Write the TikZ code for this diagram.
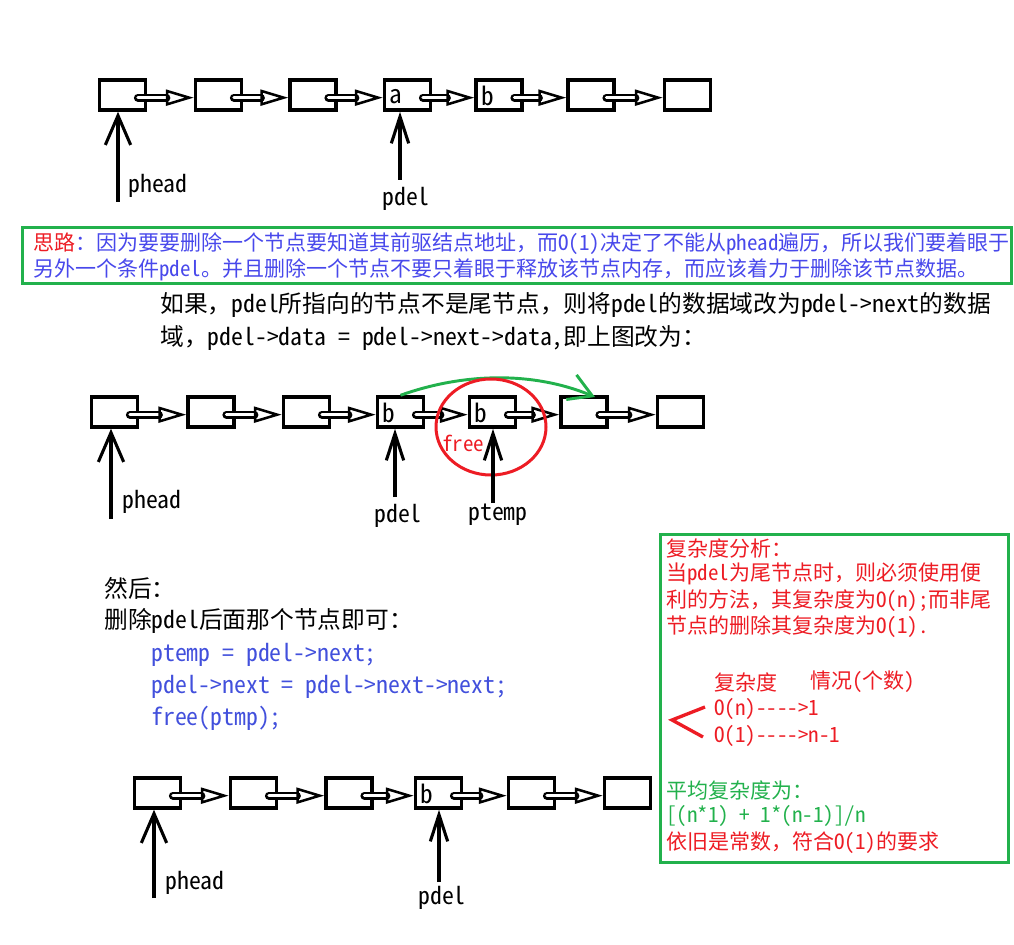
\documentclass[tikz,border=0pt]{standalone}
\usepackage{fontspec}
\setmainfont{Noto Sans CJK SC}[Ligatures=TeXOff]
\newfontfamily\hwfont{Noto Sans CJK SC}[RawFeature=+hwid, Ligatures=TeXOff]
\newcommand\lat[1]{{\hwfont #1}}
\usetikzlibrary{arrows.meta, calc}
\definecolor{pgreen}{RGB}{34,177,76}
\definecolor{pred}{RGB}{237,28,36}
\definecolor{tblue}{RGB}{72,72,235}
\definecolor{codeblue}{RGB}{66,80,220}

\tikzset{
	cell/.style={draw, line width=2.6pt, minimum width=34.5pt, minimum height=22.5pt, inner sep=0pt},
	celltxt/.style={anchor=west, inner sep=0pt, xshift=5pt, yshift=-1pt, font=\hwfont\fontsize{19pt}{20pt}\selectfont},
	nxt/.style={line width=1.8pt, line cap=round, double, double distance=2.4pt,
		-{Triangle[open, length=21pt, width=12pt, line width=1.9pt]}},
	ptr/.style={line width=2.3pt, -{Straight Barb[length=22pt, width=19pt]}},
	ptrthin/.style={line width=2.3pt, -{Straight Barb[length=20pt, width=13pt]}},
	lbl/.style={anchor=west, inner sep=0pt, font=\hwfont\fontsize{17.8pt}{20pt}\selectfont},
	para/.style={anchor=west, inner sep=0pt, font=\fontsize{17.8pt}{20pt}\selectfont},
	note/.style={anchor=west, inner sep=0pt, font=\fontsize{15.75pt}{18pt}\selectfont},
	frame/.style={draw=pgreen, line width=2.25pt}
}

\begin{document}
\begin{tikzpicture}[x=0.75pt, y=-0.75pt]
\useasboundingbox (0,0) rectangle (1014,945);

% ==== Top: list before ====
\foreach \n/\x in {1/122.5, 2/218.5, 3/313, 4/407.5, 5/499, 6/591, 7/687.5}
	\node[cell] (t\n) at (\x,95) {};
\foreach \n [remember=\n as \p (initially 1)] in {2,...,7}
	\draw[nxt] ([xshift=-7pt,yshift=-2pt]t\p.east) -- ([yshift=-2pt]t\n.west);
\node[celltxt] (ta) at (t4.west) {a};
\node[celltxt] (tb) at (t5.west) {b};

\coordinate (ph1) at (118,202);
\draw[ptr] (ph1) -- (ph1 |- t1.south);
\node[lbl] (phl1) at (128,186) {phead};
\coordinate (pd1) at (400,180);
\draw[ptrthin] (pd1) -- (pd1 |- t4.south);
\node[lbl] (pdl1) at (382,199) {pdel};

% ==== Idea box ====
\draw[frame] (22,228) rectangle (1011,283);
\node[note] (idea1) at (33,244) {\textcolor{pred}{思路}\textcolor{tblue}{：因为要要删除一个节点要知道其前驱结点地址，而\lat{O(1)}决定了不能从\lat{phead}遍历，所以我们要着眼于}};
\node[note, text=tblue] (idea2) at (33,270) {另外一个条件\lat{pdel}。并且删除一个节点不要只着眼于释放该节点内存，而应该着力于删除该节点数据。};

\node[para] (if1) at (160,305) {如果，\lat{pdel}所指向的节点不是尾节点，则将\lat{pdel}的数据域改为\lat{pdel->next}的数据};
\node[para] (if2) at (160,338) {域，\lat{pdel->data = pdel->next->data,}即上图改为：};

% ==== Middle: data copied ====
\foreach \n/\x in {1/114.5, 2/211, 3/306.5, 4/400.5, 5/492.5, 6/584, 7/680.5}
	\node[cell] (m\n) at (\x,412) {};
\foreach \n [remember=\n as \p (initially 1)] in {2,...,7}
	\draw[nxt] ([xshift=-7pt,yshift=-2pt]m\p.east) -- ([yshift=-2pt]m\n.west);
\node[celltxt] (ma) at (m4.west) {b};
\node[celltxt] (mb) at (m5.west) {b};

% skip link
\coordinate (gend) at (595,397);
\draw[pgreen, line width=2.2pt, -{Straight Barb[length=17pt, width=20pt]}]
	(m4.north) .. controls (460,374) and (530,370) .. (gend);
% freed node
\draw[pred, line width=2.25pt] (491,427) ellipse [x radius=55, y radius=48];
\node[note, text=pred, font=\hwfont\fontsize{15.75pt}{18pt}\selectfont] (free) at (442,443) {free};

\coordinate (ph2) at (111,519);
\draw[ptr] (ph2) -- (ph2 |- m1.south);
\node[lbl] (phl2) at (122,502) {phead};
\coordinate (pd2) at (395,497);
\draw[ptrthin] (pd2) -- (pd2 |- m4.south);
\node[lbl] (pdl2) at (374,516) {pdel};
\coordinate (pt2) at (493,503);
\draw[ptrthin] (pt2) -- (pt2 |- m5.south);
\node[lbl] (ptl2) at (468,515) {ptemp};

% ==== Steps ====
\node[para] (then) at (104,588) {然后：};
\node[para] (del) at (104,621) {删除\lat{pdel}后面那个节点即可：};
\begin{scope}[every node/.style={lbl, text=codeblue}]
	\node (code1) at (151,655) {ptemp = pdel->next;};
	\node (code2) at (151,687) {pdel->next = pdel->next->next;};
	\node (code3) at (151,718) {free(ptmp);};
\end{scope}

% ==== Bottom: list after ====
\foreach \n/\x in {1/157.5, 2/253.5, 3/349, 4/438.5, 5/531.5, 6/627.5}
	\node[cell] (b\n) at (\x,793) {};
\foreach \n [remember=\n as \p (initially 1)] in {2,...,6}
	\draw[nxt] ([xshift=-7pt,yshift=-2pt]b\p.east) -- ([yshift=-2pt]b\n.west);
\node[celltxt] (ba) at (b4.west) {b};

\coordinate (ph3) at (154,898);
\draw[ptr] (ph3) -- (ph3 |- b1.south);
\node[lbl] (phl3) at (165,883) {phead};
\coordinate (pd3) at (439,882);
\draw[ptrthin] (pd3) -- (pd3 |- b4.south);
\node[lbl] (pdl3) at (418,898) {pdel};

% ==== Complexity box ====
\draw[frame] (660,534) rectangle (1008,862);
\begin{scope}[every node/.style={note, text=pred}]
	\node (cx1) at (666,548) {复杂度分析：};
	\node (cx2) at (666,574) {当\lat{pdel}为尾节点时，则必须使用便};
	\node (cx3) at (666,601) {利的方法，其复杂度为\lat{O(n);}而非尾};
	\node (cx4) at (666,627) {节点的删除其复杂度为\lat{O(1).}};
	\node (hd1) at (714,682) {复杂度};
	\node (hd2) at (810,682) {情况\lat{(}个数\lat{)}};
	\node (rw1) at (714,709) {\lat{O(n)---->1}};
	\node (rw2) at (714,736) {\lat{O(1)---->n-1}};
	\node[text=pgreen] (avg1) at (666,790) {平均复杂度为：};
	\node[text=pgreen] (avg2) at (666,816) {\lat{[(n*1) + 1*(n-1)]/n}};
	\node (avg3) at (666,843) {依旧是常数，符合\lat{O(1)}的要求};
\end{scope}
\draw[pred, line width=2.5pt] (705,707) -- (672,720) -- (703,737);

\end{tikzpicture}
\end{document}
